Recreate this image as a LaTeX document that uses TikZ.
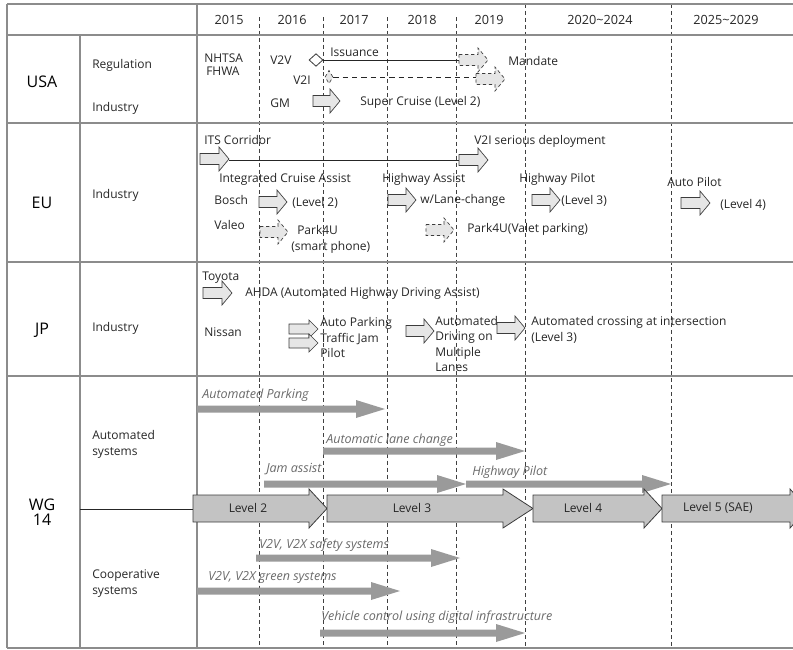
\documentclass[tikz,border=0pt]{standalone}
\usepackage{fontspec}
\setmainfont{Open Sans}
\usetikzlibrary{shapes.geometric}
\definecolor{gridgray}{HTML}{8C8C8C}
\definecolor{blkfill}{HTML}{E6E6E6}
\definecolor{blkline}{HTML}{3C3C3C}
\definecolor{warrowc}{HTML}{9A9A9A}
\definecolor{lvlfill}{HTML}{C3C3C3}
\definecolor{itgray}{HTML}{6A6A6A}
\newcommand\blkarrow[4][]{%
  \draw[blk,#1] (#2,#4-5.5) -- (#3-10,#4-5.5) -- (#3-10,#4-12) -- (#3,#4)
    -- (#3-10,#4+12) -- (#3-10,#4+5.5) -- (#2,#4+5.5) -- cycle;}
\newcommand\blkarrowsm[3]{%
  \draw[blk] (#1,#3-5) -- (#2-9,#3-5) -- (#2-9,#3-9) -- (#2,#3)
    -- (#2-9,#3+9) -- (#2-9,#3+5) -- (#1,#3+5) -- cycle;}
\newcommand\grarrow[3]{%
  \fill[warrowc] (#1,#3-3.5) -- (#2-29,#3-3.5) -- (#2-29,#3-9) -- (#2,#3)
    -- (#2-29,#3+9) -- (#2-29,#3+3.5) -- (#1,#3+3.5) -- cycle;}
\newcommand\lvlarrow[3]{%
  \draw[lvl] (#1,495) -- (#2-#3,495) -- (#2-#3,489) -- (#2,508.5)
    -- (#2-#3,528) -- (#2-#3,522) -- (#1,522) -- cycle;}
\begin{document}
\begin{tikzpicture}[x=0.75pt,y=-0.75pt,
  lbl/.style={font=\fontsize{9}{11.5}\selectfont, inner sep=0, anchor=west, align=left, text=black!85},
  yr/.style={font=\fontsize{9.5}{12}\selectfont, inner sep=0, text=black!85},
  big/.style={font=\fontsize{12}{13.5}\selectfont, inner sep=0, align=center, text=black},
  itl/.style={font=\fontsize{9.4}{11.5}\selectfont\itshape, inner sep=0, anchor=west, text=itgray},
  lvltxt/.style={font=\fontsize{9}{11.5}\selectfont, inner sep=0, text=black!85},
  blk/.style={draw=blkline, fill=blkfill, line width=0.5pt},
  dsh/.style={dash pattern=on 2.5pt off 2pt},
  lvl/.style={draw=blkline, fill=lvlfill, line width=0.6pt},
  grid/.style={draw=gridgray, line width=1.3pt},
  yline/.style={draw=black!75, line width=0.5pt, dash pattern=on 3pt off 2.2pt},
  conn/.style={draw=black!85, line width=0.6pt}]
\useasboundingbox (0,0) rectangle (793,650);
\begin{scope}
\clip (0,0) rectangle (793,650);
% dashed year lines
\foreach \x in {259,323,387,456} \draw[yline] (\x,17) -- (\x,648);
\foreach \x in {525,671} \draw[yline] (\x,4) -- (\x,648);
% grid
\draw[grid] (7,4) -- (800,4);
\draw[grid] (7,35) -- (800,35);
\draw[grid] (7,123) -- (800,123);
\draw[grid] (7,262) -- (800,262);
\draw[grid] (7,376) -- (800,376);
\draw[grid] (7,648) -- (800,648);
\draw[grid] (7,4) -- (7,648);
\draw[grid, line width=1pt] (80,35) -- (80,648);
\draw[grid, line width=1pt] (197,4) -- (197,648);
\draw[black!85, line width=0.6pt] (80,509) -- (193,509);

% header
\node[yr] (y15) at (229,20) {2015};
\node[yr] (y16) at (292,20) {2016};
\node[yr] (y17) at (354,20) {2017};
\node[yr] (y18) at (422,20) {2018};
\node[yr] (y19) at (489,20) {2019};
\node[yr] (y20) at (600,20) {2020\textasciitilde2024};
\node[yr] (y25) at (726,20) {2025\textasciitilde2029};

% row titles
\node[big] (usa) at (42,82) {USA};
\node[big] (eu) at (42,203) {EU};
\node[big] (jp) at (42,330) {JP};
\node[big] (wg) at (42,512) {WG\\[-2pt]14};
\node[lbl] (reg) at (92,65) {Regulation};
\node[lbl] (ind1) at (92,108) {Industry};
\node[lbl] (ind2) at (92,195) {Industry};
\node[lbl] (ind3) at (92,328) {Industry};
\node[lbl] (autosys) at (92,444.5) {Automated\\systems};
\node[lbl] (coopsys) at (92,583.5) {Cooperative\\systems};

% USA
\node[lbl] (nhtsa) at (204,58) {NHTSA};
\node[lbl] (fhwa) at (206,71) {FHWA};
\node[lbl] (v2v) at (270,60) {V2V};
\node[diamond, draw=blkline, fill=white, line width=0.6pt, inner sep=0,
  minimum width=10.5pt, minimum height=9.5pt] (dv2v) at (316,60) {};
\node[lbl] (iss) at (330,52) {Issuance};
\coordinate (mand) at (459,60);
\draw[conn] (dv2v.east) -- (mand);
\blkarrow[dsh]{459}{488}{60}
\node[lbl] (mandt) at (508,61) {Mandate};
\node[lbl] (v2i) at (293,80) {V2I};
\node[diamond, draw=blkline, fill=blkfill, dsh, line width=0.5pt, inner sep=0,
  minimum width=6pt, minimum height=10pt] (dv2i) at (329,77) {};
\coordinate (v2iend) at (476,77);
\draw[conn, dash pattern=on 4pt off 3pt] (dv2i.east) -- (v2iend);
\blkarrow[dsh]{476}{505}{79}
\node[lbl] (gm) at (270,103) {GM};
\blkarrow{313}{340}{101}
\node[lbl] (sc) at (360,102) {Super Cruise (Level 2)};

% EU
\node[lbl] (its) at (204,140) {ITS Corridor};
\blkarrow{200}{229}{159}
\coordinate (its1) at (229,160);
\coordinate (its2) at (459,160);
\draw[conn] (its1) -- (its2);
\blkarrow{459}{488}{160}
\node[lbl] (v2isd) at (474,141) {V2I serious deployment};
\node[lbl] (ica) at (219,179) {Integrated Cruise Assist};
\node[lbl] (ha) at (382,179) {Highway Assist};
\node[lbl] (hp) at (519,179) {Highway Pilot};
\node[lbl] (ap) at (667,182) {Auto Pilot};
\node[lbl] (bosch) at (214,200) {Bosch};
\blkarrow{259}{287}{202}
\node[lbl] (l2) at (292,203) {(Level 2)};
\node[lbl] (valeo) at (214,225) {Valeo};
\blkarrow[dsh]{260}{288}{232}
\node[lbl] (p4u) at (297,230) {Park4U};
\node[lbl] (smart) at (291,247) {(smart phone)};
\blkarrow{388}{416}{200}
\node[lbl] (wlc) at (420,200) {w/Lane-change};
\blkarrow{532}{560}{200}
\node[lbl] (l3) at (561,201) {(Level 3)};
\blkarrow{681}{710}{203}
\node[lbl] (l4) at (720,205) {(Level 4)};
\blkarrow[dsh]{426}{454}{230}
\node[lbl] (valet) at (467,229) {Park4U(Valet parking)};

% JP
\node[lbl] (toyota) at (202,278) {Toyota};
\blkarrow{203}{232}{293}
\node[lbl] (ahda) at (245,293) {AHDA (Automated Highway Driving Assist)};
\node[lbl] (nissan) at (204,332) {Nissan};
\blkarrowsm{289}{318}{329}
\blkarrowsm{289}{318}{343}
\node[lbl] (apk) at (320,337.5) {Auto Parking\\Traffic Jam\\Pilot};
\blkarrow{406}{434}{331}
\node[lbl] (admul) at (435,344) {Automated\\Driving on\\Multiple\\Lanes};
\blkarrow{497}{525}{328}
\node[lbl] (acr) at (531,330) {Automated crossing at intersection\\(Level 3)};

% WG14
\node[itl] (apark) at (202,395) {Automated Parking};
\grarrow{197}{385}{409}
\node[itl] (alc) at (326,440) {Automatic lane change};
\grarrow{323}{525}{451}
\node[itl] (jam) at (266,469) {Jam assist};
\grarrow{264}{466}{484}
\node[itl] (hpw) at (472,472) {Highway Pilot};
\grarrow{466}{671}{484}

\lvlarrow{193}{327}{18}
\lvlarrow{327}{533}{30}
\lvlarrow{533}{662}{18}
\lvlarrow{662}{808}{18}
\node[lvltxt] (lv2) at (248,508) {Level 2};
\node[lvltxt] (lv3) at (412,508) {Level 3};
\node[lvltxt] (lv4) at (583,508) {Level 4};
\node[lvltxt] (lv5) at (718,508) {Level 5 (SAE)};

\node[itl] (safety) at (259,545) {V2V, V2X safety systems};
\grarrow{256}{460}{558}
\node[itl] (green) at (208,577) {V2V, V2X green systems};
\grarrow{197}{400}{591}
\node[itl] (vcdi) at (321,617) {Vehicle control using digital infrastructure};
\grarrow{320}{525}{633}
\end{scope}
\end{tikzpicture}
\end{document}
